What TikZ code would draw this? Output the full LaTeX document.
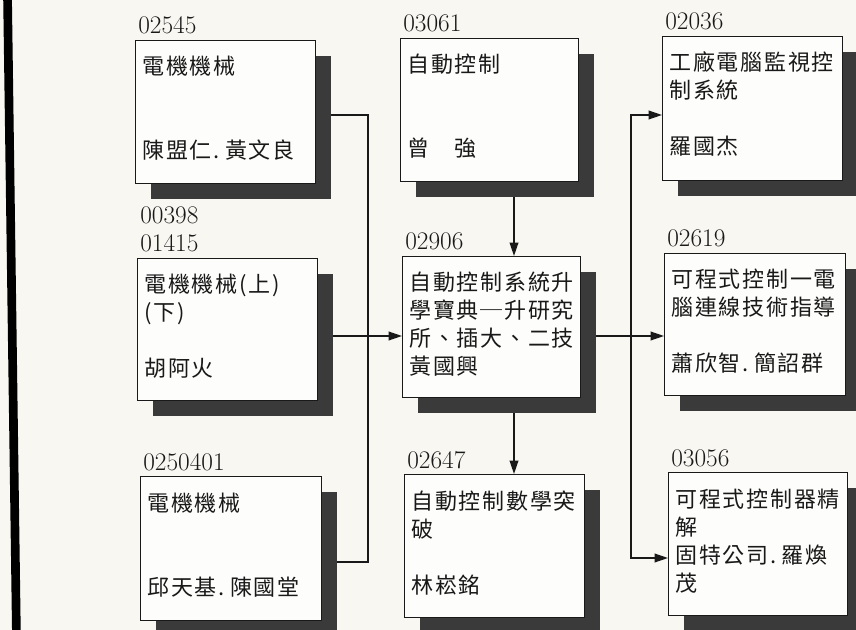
\documentclass[tikz,border=0pt]{standalone}
\usepackage{fontspec}
\newfontfamily\cjk[LetterSpace=8]{Noto Sans CJK TC}
\usetikzlibrary{arrows.meta,shadows,calc}
\definecolor{paper}{RGB}{248,247,242}
\definecolor{boxfill}{RGB}{253,253,251}
\definecolor{shade}{RGB}{58,58,58}
\definecolor{ink}{RGB}{25,25,25}
\newcommand\pd{.\kern0.25em}
\tikzset{
  bookframe/.style={draw=ink, line width=1.1pt, fill=boxfill, anchor=north west, inner sep=0pt,
    drop shadow={shadow xshift=11.25pt, shadow yshift=-11.25pt, fill=shade, opacity=1}},
  booklabel/.style={anchor=base west, inner sep=0pt, text=ink, font=\fontsize{19}{21}\selectfont},
  booktext/.style={anchor=base west, inner sep=0pt, text=ink, font=\cjk\fontsize{16.5}{21}\selectfont},
  conn/.style={draw=ink, line width=1.1pt},
  arr/.style={conn, -{Triangle[length=10pt,width=6.5pt]}},
  arrboth/.style={conn, {Triangle[length=10pt,width=6.5pt]}-{Triangle[length=10pt,width=6.5pt]}}
}
\newcommand\bookbox[7]{%
  \node[bookframe, minimum width={#4*0.75pt}, minimum height={#5*0.75pt}] (#1) at (#2,#3) {};
  \node[booklabel] (#1-lbl) at ([shift={(3,-6)}]#1.north west) {\parbox[b]{80pt}{\baselineskip=21pt #6}};
  \node[booktext] (#1-txt) at ([shift={(7,35)}]#1.north west) {\parbox[t]{140pt}{\baselineskip=21pt #7}};
}
\begin{document}
\begin{tikzpicture}[x=0.75pt, y=-0.75pt]
\useasboundingbox (0,0) rectangle (856,630);
\fill[paper] (0,0) rectangle (856,630);
\draw[shade, line width=6.5pt] (7.5,-5) -- (16.5,640);

\bookbox{b1}{135}{40}{180}{143}{02545}{電機機械\\\mbox{}\\\mbox{}\\陳盟仁\pd 黃文良}
\bookbox{b2}{400}{38}{178}{143}{03061}{自動控制\\\mbox{}\\\mbox{}\\曾　強}
\bookbox{b3}{662}{36}{180}{144}{02036}{工廠電腦監視控\\制系統\\\mbox{}\\羅國杰}
\bookbox{b4}{137}{258}{180}{142}{00398\\01415}{電機機械(上)\\(下)\\\mbox{}\\胡阿火}
\bookbox{b5}{402}{256}{178}{141}{02906}{自動控制系統升\\學寶典─升研究\\所、插大、二技\\黃國興}
\bookbox{b6}{664}{253}{181}{142}{02619}{可程式控制一電\\腦連線技術指導\\\mbox{}\\蕭欣智\pd 簡詔群}
\bookbox{b7}{140}{476}{181}{144}{0250401}{電機機械\\\mbox{}\\\mbox{}\\邱天基\pd 陳國堂}
\bookbox{b8}{404}{474}{180}{143}{02647}{自動控制數學突\\破\\\mbox{}\\林崧銘}
\bookbox{b9}{668}{472}{179}{143}{03056}{可程式控制器精\\解\\固特公司\pd 羅煥\\茂}

\coordinate (jt) at (368,115);
\coordinate (jb) at (368,562);
\coordinate (hm) at (0,336);
\coordinate (vc) at (514,0);
\coordinate (r1) at (631,115);
\coordinate (r2) at (631,558);

\draw[conn] ($(b1.east |- jt)+(15,0)$) -- (jt) -- (jb) -- ($(b7.east |- jb)+(15,0)$);
\draw[arr] ($(b4.east |- hm)+(15,0)$) -- (b5.west |- hm);
\draw[arr] ($(b2.south -| vc)+(0,15)$) -- (b5.north -| vc);
\draw[arr] ($(b5.south -| vc)+(0,15)$) -- (b8.north -| vc);
\draw[arr] ($(b5.east |- hm)+(15,0)$) -- (b6.west |- hm);
\draw[arrboth] (b3.west |- r1) -- (r1) -- (r2) -- (b9.west |- r2);
\end{tikzpicture}
\end{document}
